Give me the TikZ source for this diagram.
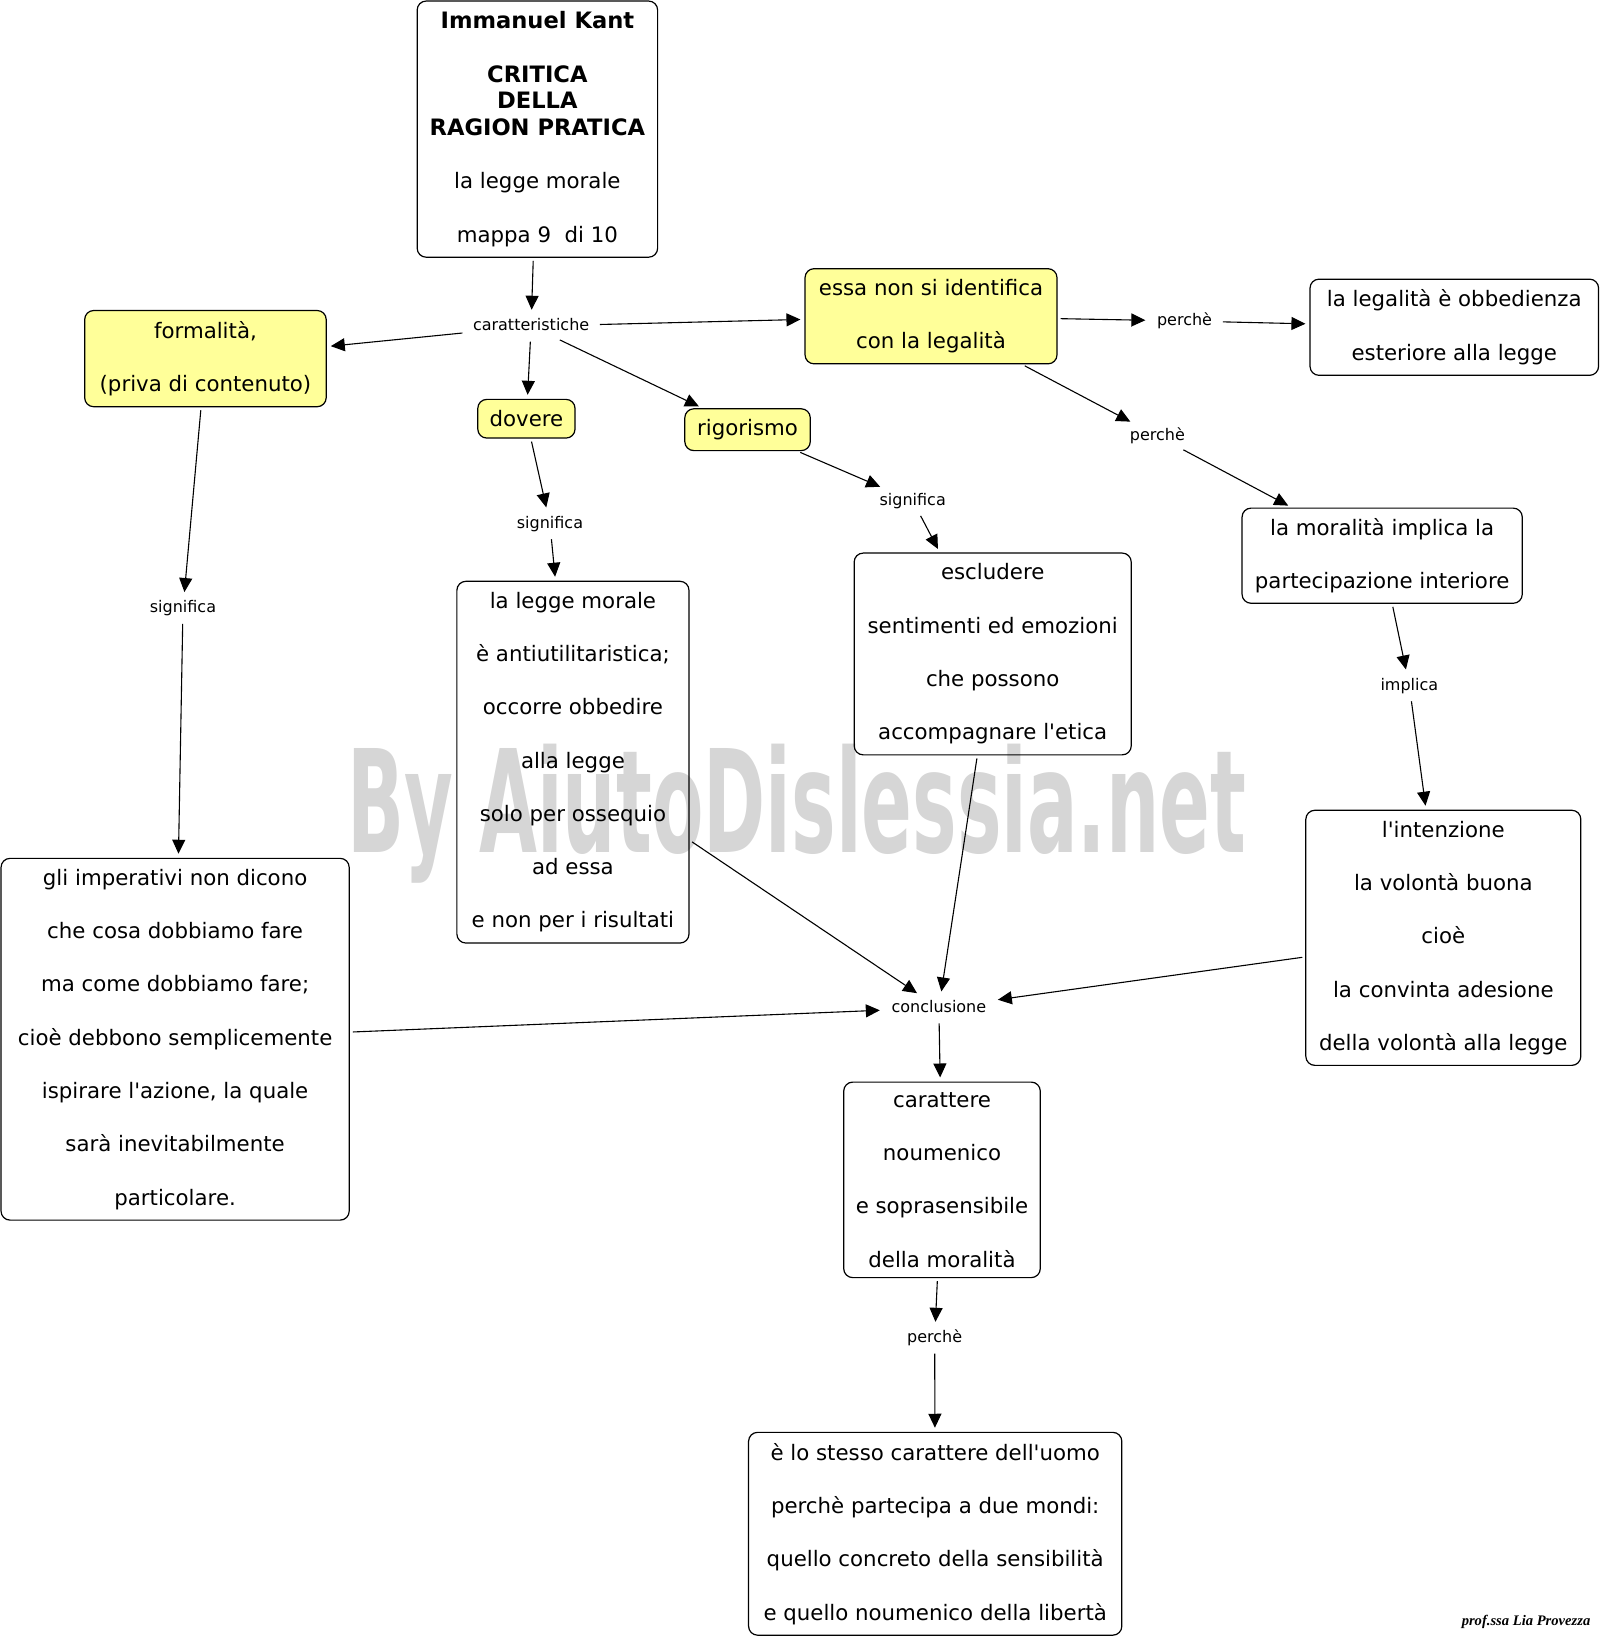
\documentclass[tikz,border=0pt]{standalone}
\usepackage{fontspec}
\usepackage{graphicx}
\setmainfont{DejaVu Sans}
\newfontfamily\sigfont{Liberation Serif}
\usetikzlibrary{arrows.meta}
\definecolor{cyel}{HTML}{FFFF99}
\definecolor{wmgray}{HTML}{D6D6D6}
\newcommand\boxfont{\fontsize{21.3pt}{53.3pt}\selectfont}
\newcommand\titfont{\fontsize{21.3pt}{26.7pt}\selectfont}
\newcommand\tbf[1]{{\fontsize{22.6pt}{26.7pt}\selectfont\bfseries #1}}
\newcommand\labfont{\fontsize{16pt}{19pt}\selectfont}
\begin{document}
\begin{tikzpicture}[x=1.0455pt,y=-1.0455pt,
  box/.style 2 args={draw, rounded corners=9pt, line width=1.2pt,
    minimum width=#1*1.0455pt, minimum height=#2*1.0455pt,
    inner sep=0pt, align=center, font=\boxfont},
  ybox/.style 2 args={box={#1}{#2}, fill=cyel},
  lab/.style={inner xsep=7.5pt, inner ysep=4.5pt, font=\labfont,
    text height=12pt, text depth=3.5pt},
  arr/.style={-{Triangle[length=14pt,width=13pt]}, line width=1.1pt,
    shorten >=4pt, shorten <=3pt}]
\useasboundingbox (0,0) rectangle (1530.4,1564.8);

% watermark
\node[anchor=base west, inner sep=0pt, text=wmgray] (wm) at (332,815)
  {\scalebox{0.525}[1]{\fontsize{142.7pt}{150pt}\selectfont\bfseries By AiutoDislessia.net}};

% boxes
\node[box={230}{245}, font=\titfont] (title) at (514,123.5)
  {\tbf{Immanuel Kant}\\[26.7pt]\tbf{CRITICA}\\\tbf{DELLA}\\\tbf{RAGION PRATICA}\\[26.7pt]la legge morale\\[26.7pt]mappa 9~~di 10};
\node[ybox={231}{92}] (form) at (196.5,343) {formalità,\\(priva di contenuto)};
\node[ybox={93}{37}] (dov) at (503.5,400.5) {dovere};
\node[ybox={120}{40}] (rig) at (715,411) {rigorismo};
\node[ybox={241}{91}] (essa) at (890.5,302.5) {essa non si identifica\\con la legalità};
\node[box={276}{92}] (legal) at (1391,313) {la legalità è obbedienza\\esteriore alla legge};
\node[box={268}{91}] (moral) at (1322,531.5) {la moralità implica la\\partecipazione interiore};
\node[box={263}{244}] (intenz) at (1380.5,897)
  {l\textquotesingle intenzione\\la volontà buona\\cioè\\la convinta adesione\\della volontà alla legge};
\node[box={265}{193}] (escl) at (949.5,625.5)
  {escludere\\sentimenti ed emozioni\\che possono\\accompagnare l\textquotesingle etica};
\node[box={222}{346}] (legge) at (548,729)
  {la legge morale\\è antiutilitaristica;\\occorre obbedire\\alla legge\\solo per ossequio\\ad essa\\e non per i risultati};
\node[box={333}{346}] (imper) at (167.5,994)
  {gli imperativi non dicono\\che cosa dobbiamo fare\\ma come dobbiamo fare;\\cioè debbono semplicemente\\ispirare l\textquotesingle azione, la quale\\sarà inevitabilmente\\particolare.};
\node[box={188}{187}] (carat) at (901,1128.5)
  {carattere\\noumenico\\e soprasensibile\\della moralità};
\node[box={357}{194}] (stesso) at (894.5,1467)
  {è lo stesso carattere dell\textquotesingle uomo\\perchè partecipa a due mondi:\\quello concreto della sensibilità\\e quello noumenico della libertà};

% linking phrases
\node[lab] (car) at (508,312) {caratteristiche};
\node[lab] (p1) at (1133,307) {perchè};
\node[lab] (p2) at (1107,417) {perchè};
\node[lab] (impl) at (1348,656) {implica};
\node[lab] (sigr) at (873,479) {significa};
\node[lab] (sigd) at (526,501) {significa};
\node[lab] (sigf) at (175,582) {significa};
\node[lab] (concl) at (898,964) {conclusione};
\node[lab] (p3) at (894,1280) {perchè};

% signature
\node[inner sep=0pt, font=\sigfont\fontsize{14.6pt}{16pt}\selectfont\bfseries\itshape] (sig) at (1459.6,1551.4) {prof.ssa Lia Provezza};

% connectors
\draw[arr] (title) -- (car);
\draw[arr] (car) -- (form);
\draw[arr] (car) -- (dov);
\draw[arr] (car) -- (rig);
\draw[arr] (car) -- (essa);
\draw[arr] (essa) -- (p1);
\draw[arr] (p1) -- (legal);
\draw[arr] (essa) -- (p2);
\draw[arr] (p2) -- (moral);
\draw[arr] (moral) -- (impl);
\draw[arr] (impl) -- (intenz);
\draw[arr] (rig) -- (sigr);
\draw[arr] (sigr) -- (escl);
\draw[arr] (dov) -- (sigd);
\draw[arr] (sigd) -- (legge);
\draw[arr] (form) -- (sigf);
\draw[arr] (sigf) -- (imper);
\draw[arr] (legge) -- (concl);
\draw[arr] (escl) -- (concl);
\draw[arr] (intenz) -- (concl);
\draw[arr] (imper) -- (concl);
\draw[arr] (concl) -- (carat);
\draw[arr] (carat) -- (p3);
\draw[arr] (p3) -- (stesso);
\end{tikzpicture}
\end{document}
